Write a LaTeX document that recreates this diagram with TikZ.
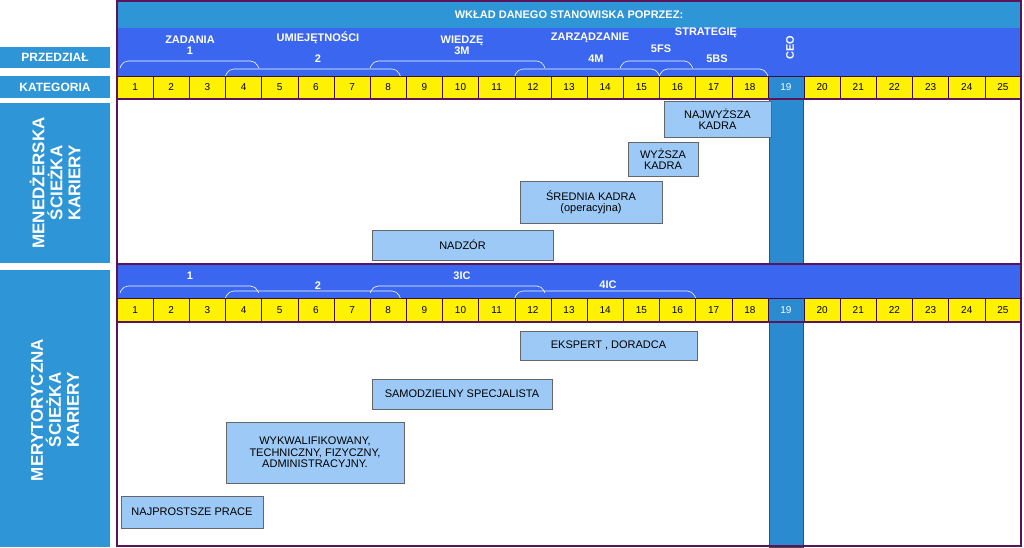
\documentclass[tikz,border=0pt]{standalone}
\usepackage{fontspec}
\setmainfont{Liberation Sans}
\usetikzlibrary{positioning}
\definecolor{titleblue}{HTML}{2E95D6}
\definecolor{bandblue}{HTML}{3A66F0}
\definecolor{frame}{HTML}{5A1458}
\definecolor{boxblue}{HTML}{9CC9F5}
\definecolor{ceoblue}{HTML}{2A8BD0}
\tikzset{
  cell/.style={draw=frame!70!black,fill=yellow,minimum width=36.16pt,minimum height=23pt,inner sep=0pt,font=\fontsize{10}{10}\selectfont},
  job/.style={draw=black!60,fill=boxblue,inner sep=0pt,align=center,font=\fontsize{11}{11.5}\selectfont},
  lab/.style={text=white,font=\bfseries\fontsize{11}{11}\selectfont,inner sep=0pt},
  side/.style={fill=titleblue,text=white,font=\bfseries\fontsize{12}{12}\selectfont,inner sep=0pt},
  brace/.style={white,line width=0.6pt,rounded corners=5pt}
}
\newcommand{\cx}[1]{117+(#1-1)*36.16}
\begin{document}
\begin{tikzpicture}[x=1pt,y=-1pt]
    \useasboundingbox (0,0) rectangle (1024,547);
    \fill[white] (0,0) rectangle (1024,547);
    % left labels
    \node[side,minimum width=110pt,minimum height=21pt] (przedz) at (55,57) {PRZEDZIAŁ};
    \node[side,minimum width=110pt,minimum height=22pt] (kat) at (55,87) {KATEGORIA};
    \fill[titleblue] (0,103) rectangle (110,263);
    \fill[titleblue] (0,270) rectangle (110,547);
    \node[lab,rotate=90,align=center,font=\bfseries\fontsize{17}{18}\selectfont] (men) at (55,183) {MENEDŻERSKA\\ŚCIEŻKA\\KARIERY};
    \node[lab,rotate=90,align=center,font=\bfseries\fontsize{17}{18}\selectfont] (mer) at (55,410) {MERYTORYCZNA\\ŚCIEŻKA\\KARIERY};
    % top bands
    \fill[titleblue] (117,2) rectangle (1021,28);
    \fill[bandblue] (117,28) rectangle (1021,76);
    \fill[bandblue] (117,265) rectangle (1021,298);
    \node[lab] (tytul) at (569,15) {WKŁAD DANEGO STANOWISKA POPRZEZ:};
    % category cells
    \foreach \i in {1,...,25} {
      \node[cell] (a\i) at ({\cx{\i}+18.08},87.5) {\i};
      \node[cell] (b\i) at ({\cx{\i}+18.08},310) {\i};
    }
    \node[cell,fill=ceoblue,text=white] (a19) at ({\cx{19}+18.08},87.5) {19};
    \node[cell,fill=ceoblue,text=white] (b19) at ({\cx{19}+18.08},310) {19};
    % CEO column
    \draw[fill=ceoblue,draw=black!70] ({\cx{19}+1},99) rectangle ({\cx{20}-1},263);
    \draw[fill=ceoblue,draw=black!70] ({\cx{19}+1},322) rectangle ({\cx{20}-1},547);
    \node[lab,rotate=90] (ceo) at (790,48) {CEO};
    % upper labels
    \node[lab,align=center] (zad) at (190,45) {ZADANIA\\1};
    \node[lab] (umi) at (318,38) {UMIEJĘTNOŚCI};
    \node[lab] (u2) at (318,59) {2};
    \node[lab,align=center] (wie) at (462,45) {WIEDZĘ\\3M};
    \node[lab] (zar) at (590,38) {ZARZĄDZANIE};
    \node[lab] (m4) at (596,59) {4M};
    \node[lab] (fs) at (661,49) {5FS};
    \node[lab] (str) at (706,33) {STRATEGIĘ};
    \node[lab] (bs) at (717,59) {5BS};
    % upper braces
    \draw[brace] ({\cx{1}+3},68) -- ({\cx{1}+6},61) -- ({\cx{5}-6},61) -- ({\cx{5}-3},68);
    \draw[brace] ({\cx{4}},76) -- ({\cx{4}+3},69) -- ({\cx{9}-9},69) -- ({\cx{9}-6},76);
    \draw[brace] ({\cx{8}},68) -- ({\cx{8}+3},61) -- ({\cx{13}-9},61) -- ({\cx{13}-6},68);
    \draw[brace] ({\cx{12}},76) -- ({\cx{12}+3},69) -- ({\cx{16}-3},69) -- ({\cx{16}},76);
    \draw[brace] ({\cx{15}-3},68) -- ({\cx{15}},61) -- ({\cx{17}-6},61) -- ({\cx{17}-3},68);
    \draw[brace] ({\cx{16}},76) -- ({\cx{16}+3},69) -- ({\cx{19}-3},69) -- ({\cx{19}},76);
    % lower labels
    \node[lab] (l1) at (190,276) {1};
    \node[lab] (l2) at (318,286) {2};
    \node[lab] (l3) at (462,276) {3IC};
    \node[lab] (l4) at (608,285) {4IC};
    % lower braces
    \draw[brace] ({\cx{1}+3},293) -- ({\cx{1}+6},286) -- ({\cx{5}-6},286) -- ({\cx{5}-3},293);
    \draw[brace] ({\cx{4}},298) -- ({\cx{4}+3},291) -- ({\cx{9}-9},291) -- ({\cx{9}-6},298);
    \draw[brace] ({\cx{8}},293) -- ({\cx{8}+3},286) -- ({\cx{13}-9},286) -- ({\cx{13}-6},293);
    \draw[brace] ({\cx{12}},298) -- ({\cx{12}+3},291) -- ({\cx{17}-3},291) -- ({\cx{17}},298);
    % jobs
    \node[job,minimum width=107pt,minimum height=36pt] (najw) at (717.5,119) {NAJWYŻSZA\\KADRA};
    \node[job,minimum width=70pt,minimum height=34pt] (wyz) at (663,159) {WYŻSZA\\KADRA};
    \node[job,minimum width=142pt,minimum height=42pt] (sred) at (591,202) {ŚREDNIA KADRA\\(operacyjna)};
    \node[job,minimum width=181pt,minimum height=30pt] (nadz) at (462.5,245) {NADZÓR};
    \node[job,minimum width=177pt,minimum height=29pt] (eksp) at (608.5,345.5) {EKSPERT , DORADCA};
    \node[job,minimum width=180pt,minimum height=30pt] (samo) at (462,394) {SAMODZIELNY SPECJALISTA};
    \node[job,minimum width=178pt,minimum height=61pt] (wykw) at (315,452.5) {WYKWALIFIKOWANY,\\TECHNICZNY, FIZYCZNY,\\ADMINISTRACYJNY.};
    \node[job,minimum width=142pt,minimum height=32pt] (najp) at (192,512) {NAJPROSTSZE PRACE};
    % frames
    \draw[frame,line width=2.5pt] (117,1) rectangle (1021,546);
    \draw[frame,line width=2.5pt] (117,99) -- (1021,99);
    \draw[frame,line width=2.5pt] (117,264) -- (1021,264);
    \draw[frame,line width=2.5pt] (117,322) -- (1021,322);
\end{tikzpicture}
\end{document}
